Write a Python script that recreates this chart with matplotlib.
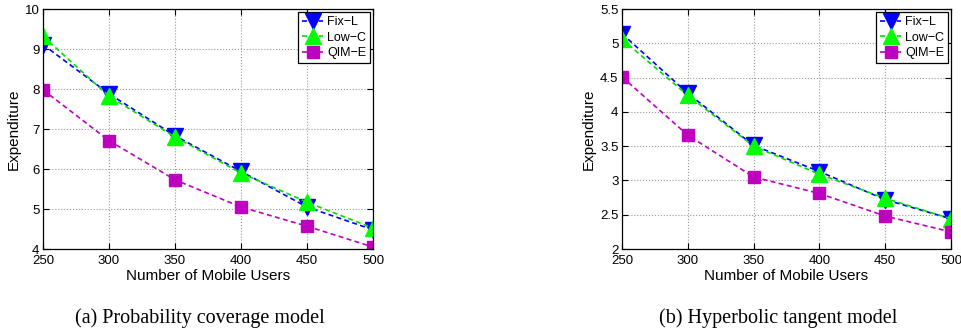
import matplotlib
matplotlib.use("Agg")
import matplotlib.pyplot as plt

users = [250, 300, 350, 400, 450, 500]

# (a) Probability coverage model
fix_a = [9.11, 7.88, 6.83, 5.94, 5.05, 4.48]
low_a = [9.32, 7.82, 6.80, 5.90, 5.17, 4.52]
qim_a = [7.98, 6.71, 5.73, 5.05, 4.57, 4.05]

# (b) Hyperbolic tangent model
fix_b = [5.14, 4.27, 3.51, 3.13, 2.72, 2.44]
low_b = [5.06, 4.24, 3.50, 3.09, 2.74, 2.44]
qim_b = [4.51, 3.66, 3.05, 2.81, 2.48, 2.25]

labels = ["Fix\u2212L", "Low\u2212C", "QIM\u2212E"]
captions = ["(a) Probability coverage model", "(b) Hyperbolic tangent model"]

plt.rcParams['font.family'] = ['Liberation Sans', 'DejaVu Sans']

fig = plt.figure(figsize=(9.61, 3.35), dpi=100)
ax1 = fig.add_axes([43/961, 1-249/335, 330/961, 240/335])
ax2 = fig.add_axes([622/961, 1-249/335, 329/961, 240/335])

def draw(ax, fix, low, qim, ylim, yticks, yticklabels):
    ax.plot(users, fix, linestyle='--', color='blue', marker='v', markersize=12,
            markerfacecolor='blue', markeredgecolor='blue', lw=1.2, label=labels[0], dashes=(3, 2))
    ax.plot(users, low, linestyle='--', color='#00e000', marker='^', markersize=12,
            markerfacecolor='#00ff00', markeredgecolor='#00ff00', lw=1.2, label=labels[1], dashes=(3, 2))
    ax.plot(users, qim, linestyle='--', color='#c000c0', marker='s', markersize=9,
            markerfacecolor='#c000c0', markeredgecolor='#c000c0', lw=1.2, label=labels[2], dashes=(3, 2))
    ax.set_xlim(250, 500)
    ax.set_ylim(*ylim)
    ax.set_xticks(users)
    ax.set_yticks(yticks)
    ax.set_yticklabels(yticklabels)
    ax.grid(True, linestyle=':', color='#999999', lw=0.8)
    ax.tick_params(direction='in', labelsize=9.5, length=4, top=True, right=True)
    ax.tick_params(axis='x', pad=4)
    ax.tick_params(axis='y', pad=2.5)
    ax.set_xlabel("Number of Mobile Users", fontsize=11, labelpad=2)
    ax.set_ylabel("Expenditure", fontsize=11, labelpad=3)
    for s in ax.spines.values():
        s.set_linewidth(0.9)
    leg = ax.legend(loc='upper right', fontsize=9, handlelength=1.7, handletextpad=0.3,
                    borderpad=0.3, labelspacing=0.3, fancybox=False, framealpha=1,
                    borderaxespad=0.25, markerscale=1.0)
    leg.get_frame().set_edgecolor('black')
    leg.get_frame().set_linewidth(0.9)

draw(ax1, fix_a, low_a, qim_a, (4, 10), [4, 5, 6, 7, 8, 9, 10],
     ["4", "5", "6", "7", "8", "9", "10"])
draw(ax2, fix_b, low_b, qim_b, (2, 5.5), [2, 2.5, 3, 3.5, 4, 4.5, 5, 5.5],
     ["2", "2.5", "3", "3.5", "4", "4.5", "5", "5.5"])

fig.text(200/961, 1-323.5/335, captions[0], ha='center', va='baseline', fontsize=14.5,
         family=['Liberation Serif', 'DejaVu Serif'])
fig.text(778/961, 1-323.5/335, captions[1], ha='center', va='baseline', fontsize=14.5,
         family=['Liberation Serif', 'DejaVu Serif'])

fig.savefig("out.png", dpi=100)
